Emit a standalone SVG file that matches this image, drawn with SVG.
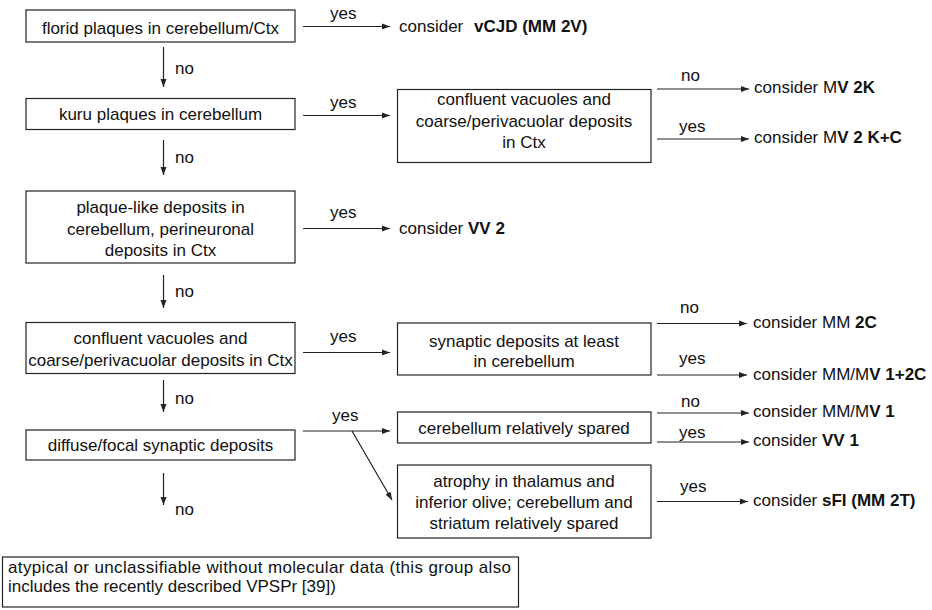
<svg xmlns="http://www.w3.org/2000/svg" width="932" height="610" viewBox="0 0 932 610">
<style>
text{font-family:"Liberation Sans",Arial,sans-serif;font-size:17px;fill:#111}
.c{text-anchor:middle}
.b{font-weight:bold}
rect{fill:#fff;stroke:#222;stroke-width:1.2}
line{stroke:#222;stroke-width:1.2}
</style>
<defs>
<marker id="ah" markerUnits="userSpaceOnUse" markerWidth="9" markerHeight="7" refX="8" refY="3.5" orient="auto"><path d="M0,0.5 L8,3.5 L0,6.5 z" fill="#222"/></marker>
</defs>
<rect width="932" height="610" style="fill:#fff;stroke:none"/>
<g id="n1"><rect x="26" y="10" width="269" height="32"/><text class="c" x="160.5" y="34">florid plaques in cerebellum/Ctx</text></g>
<g id="n2"><rect x="26" y="98.5" width="269" height="31"/><text class="c" x="160.5" y="120">kuru plaques in cerebellum</text></g>
<g id="n3"><rect x="397.5" y="89.5" width="253.5" height="73"/><text class="c" x="524" y="105">confluent vacuoles and</text><text class="c" x="524" y="126.5">coarse/perivacuolar deposits</text><text class="c" x="524" y="148">in Ctx</text></g>
<g id="n4"><rect x="26" y="191" width="269" height="72"/><text class="c" x="160.5" y="213">plaque-like deposits in</text><text class="c" x="160.5" y="234.5">cerebellum, perineuronal</text><text class="c" x="160.5" y="256">deposits in Ctx</text></g>
<g id="n5"><rect x="26" y="322.5" width="269" height="51"/><text class="c" x="160.5" y="343.5">confluent vacuoles and</text><text class="c" x="160.5" y="365.5">coarse/perivacuolar deposits in Ctx</text></g>
<g id="n6"><rect x="397.5" y="323" width="253.5" height="52"/><text class="c" x="524" y="346.5">synaptic deposits at least</text><text class="c" x="524" y="367">in cerebellum</text></g>
<g id="n7"><rect x="26" y="430" width="269" height="30"/><text class="c" x="160.5" y="451">diffuse/focal synaptic deposits</text></g>
<g id="n8"><rect x="397.5" y="412" width="253.5" height="31"/><text class="c" x="524" y="433.5">cerebellum relatively spared</text></g>
<g id="n9"><rect x="397.5" y="465" width="253.5" height="73"/><text class="c" x="524" y="487">atrophy in thalamus and</text><text class="c" x="524" y="508">inferior olive; cerebellum and</text><text class="c" x="524" y="529">striatum relatively spared</text></g>
<g id="n10"><rect x="2.5" y="557" width="516" height="50"/><text x="8" y="573" textLength="503" lengthAdjust="spacing">atypical or unclassifiable without molecular data (this group also</text><text x="8" y="592">includes the recently described VPSPr [39])</text></g>
<g id="r1"><text x="399" y="32">consider <tspan class="b" dx="6">vCJD (MM 2V)</tspan></text></g>
<g id="r2"><text x="754" y="93">consider M<tspan class="b">V 2K</tspan></text></g>
<g id="r3"><text x="754" y="143">consider M<tspan class="b">V 2 K+C</tspan></text></g>
<g id="r4"><text x="399" y="234">consider <tspan class="b">VV 2</tspan></text></g>
<g id="r5"><text x="753" y="328">consider MM <tspan class="b">2C</tspan></text></g>
<g id="r6"><text x="753" y="380">consider MM/M<tspan class="b">V 1+2C</tspan></text></g>
<g id="r7"><text x="753" y="417">consider MM/M<tspan class="b">V 1</tspan></text></g>
<g id="r8"><text x="753" y="446">consider <tspan class="b">VV 1</tspan></text></g>
<g id="r9"><text x="753" y="506">consider <tspan class="b">sFI (MM 2T)</tspan></text></g>
<g id="connectors">
<line x1="163.5" y1="47" x2="163.5" y2="87" marker-end="url(#ah)"/>
<line x1="163.5" y1="140" x2="163.5" y2="175" marker-end="url(#ah)"/>
<line x1="163.5" y1="275" x2="163.5" y2="308" marker-end="url(#ah)"/>
<line x1="163.5" y1="380" x2="163.5" y2="412" marker-end="url(#ah)"/>
<line x1="163.5" y1="473" x2="163.5" y2="505" marker-end="url(#ah)"/>
<line x1="303" y1="26.5" x2="390" y2="26.5" marker-end="url(#ah)"/>
<line x1="303" y1="115.5" x2="390" y2="115.5" marker-end="url(#ah)"/>
<line x1="303" y1="228.5" x2="390" y2="228.5" marker-end="url(#ah)"/>
<line x1="303" y1="352.5" x2="390" y2="352.5" marker-end="url(#ah)"/>
<line x1="303" y1="431" x2="390" y2="431" marker-end="url(#ah)"/>
<line x1="352" y1="431" x2="392" y2="500" marker-end="url(#ah)"/>
<line x1="657" y1="89" x2="749" y2="89" marker-end="url(#ah)"/>
<line x1="657" y1="139" x2="749" y2="139" marker-end="url(#ah)"/>
<line x1="657" y1="323.5" x2="747" y2="323.5" marker-end="url(#ah)"/>
<line x1="657" y1="375" x2="747" y2="375" marker-end="url(#ah)"/>
<line x1="657" y1="413" x2="749" y2="413" marker-end="url(#ah)"/>
<line x1="657" y1="442" x2="749" y2="442" marker-end="url(#ah)"/>
<line x1="657" y1="501.5" x2="748" y2="501.5" marker-end="url(#ah)"/>
<text x="175" y="74">no</text>
<text x="175" y="163">no</text>
<text x="175" y="297">no</text>
<text x="175" y="404">no</text>
<text x="175" y="515">no</text>
<text x="330" y="19">yes</text>
<text x="330" y="108">yes</text>
<text x="330" y="218">yes</text>
<text x="330" y="342">yes</text>
<text x="332" y="421">yes</text>
<text x="681" y="81">no</text>
<text x="679" y="132">yes</text>
<text x="680" y="313">no</text>
<text x="679" y="364">yes</text>
<text x="681" y="407">no</text>
<text x="679" y="438">yes</text>
<text x="680" y="492">yes</text>
</g>
</svg>
